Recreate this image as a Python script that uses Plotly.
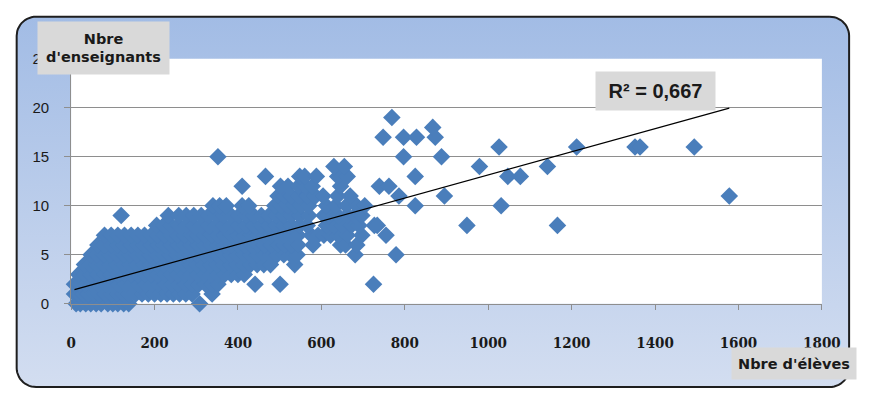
import numpy as np
import plotly.graph_objects as go

W, H = 872, 397

# ---------------- data (Nbre d'élèves for each Nbre d'enseignants) ----------------
x_at_0 = [12, 22, 35, 47, 60, 72, 88, 100, 112, 126, 138, 308]
x_at_1 = [8, 18, 30, 42, 55, 68, 82, 96, 110, 125, 140, 155, 170, 185, 200, 215, 230, 245, 260, 275, 290, 338]
x_at_2 = [8, 20, 35, 50, 66, 82, 98, 114, 130, 146, 162, 178, 194, 210, 226, 242, 258, 274, 290, 306, 322, 338, 352, 441, 501, 725]
x_at_3 = [18, 32, 48, 64, 80, 96, 112, 128, 144, 160, 176, 192, 208, 224, 240, 256, 272, 288, 304, 320, 336, 352, 368, 384, 400, 415]
x_at_4 = [32, 46, 62, 78, 94, 110, 126, 142, 158, 174, 190, 206, 222, 238, 254, 270, 286, 302, 318, 334, 350, 366, 382, 398, 414, 430, 446, 462, 478, 536]
x_at_5 = [48, 62, 78, 94, 110, 126, 142, 158, 174, 190, 206, 222, 238, 254, 270, 286, 302, 318, 334, 350, 366, 382, 398, 414, 430, 446, 462, 478, 494, 510, 526, 542, 681, 779]
x_at_6 = [64, 80, 96, 112, 128, 144, 160, 176, 192, 208, 224, 240, 256, 272, 288, 304, 320, 336, 352, 368, 384, 400, 416, 432, 448, 464, 480, 496, 512, 528, 544, 580, 646, 658, 685]
x_at_7 = [80, 96, 112, 128, 144, 160, 176, 192, 208, 224, 240, 256, 272, 288, 304, 320, 336, 352, 368, 384, 400, 416, 432, 448, 464, 480, 496, 512, 528, 544, 576, 592, 606, 622, 640, 662, 697, 755]
x_at_8 = [205, 222, 240, 258, 276, 294, 312, 330, 348, 366, 384, 402, 420, 438, 456, 474, 492, 510, 528, 548, 566, 612, 630, 650, 672, 690, 727, 734, 949, 1166]
x_at_9 = [120, 233, 258, 276, 294, 312, 330, 348, 366, 384, 402, 420, 438, 456, 474, 492, 510, 528, 548, 570, 606, 618, 640, 662, 680, 697]
x_at_10 = [340, 356, 372, 410, 426, 488, 504, 520, 536, 552, 570, 612, 634, 660, 685, 704, 825, 1031]
x_at_11 = [496, 512, 528, 546, 566, 586, 604, 639, 669, 786, 895, 1578]
x_at_12 = [410, 502, 520, 545, 562, 578, 646, 739, 762]
x_at_13 = [466, 548, 560, 588, 639, 662, 825, 1047, 1077]
x_at_14 = [630, 655, 979, 1142]
x_at_15 = [352, 797, 888]
x_at_16 = [1026, 1212, 1352, 1364, 1494]
x_at_17 = [748, 797, 828, 873]
x_at_18 = [867]
x_at_19 = [769]

rows = [x_at_0, x_at_1, x_at_2, x_at_3, x_at_4, x_at_5, x_at_6, x_at_7, x_at_8, x_at_9,
        x_at_10, x_at_11, x_at_12, x_at_13, x_at_14, x_at_15, x_at_16, x_at_17, x_at_18, x_at_19]

eleves, enseignants = [], []
for n_ens, xs in enumerate(rows):
    for v in xs:
        eleves.append(v)
        enseignants.append(n_ens)

TREND_SLOPE = 0.0118
TREND_INTERCEPT = 1.35
R2_LABEL = "R² = 0,667"

x_tickvals = [0, 200, 400, 600, 800, 1000, 1200, 1400, 1600, 1800]
y_tickvals = [0, 5, 10, 15, 20, 25]
X_TITLE = "Nbre d'élèves"
Y_TITLE = "Nbre<br>d'enseignants"

# ---------------- geometry / style (page pixels, y downward) ----------------
PLOT_L, PLOT_R, PLOT_T, PLOT_B = 68, 840, 52, 308
FR_L, FR_T, FR_R, FR_B, FR_RAD = 12, 8, 868, 395, 20
MARKER_COLOR = "#4A7EBB"
GRID = "#8E8E8E"
TXT = "#1A1A1A"


def rounded_rect(x0, y0, x1, y1, r, n=14):
    xs, ys = [], []
    corners = [(x1 - r, y0 + r, -90, 0), (x1 - r, y1 - r, 0, 90),
               (x0 + r, y1 - r, 90, 180), (x0 + r, y0 + r, 180, 270)]
    for cx, cy, a0, a1 in corners:
        for a in np.linspace(np.radians(a0), np.radians(a1), n):
            xs.append(cx + r * np.cos(a))
            ys.append(H - (cy + r * np.sin(a)))
    xs.append(xs[0]); ys.append(ys[0])
    return xs, ys


fx, fy = rounded_rect(FR_L, FR_T, FR_R, FR_B, FR_RAD)

fig = go.Figure()

# background frame (pixel axes x/y)
fig.add_trace(go.Scatter(
    x=fx, y=fy, mode="lines", fill="toself",
    line=dict(color="#1E1E1E", width=2),
    fillgradient=dict(type="vertical",
                      colorscale=[[0, "#D5DFF1"], [1, "#A2BCE5"]],
                      start=H - FR_B, stop=H - FR_T),
    hoverinfo="skip", showlegend=False, xaxis="x", yaxis="y"))
fig.add_trace(go.Scatter(
    x=[PLOT_L, PLOT_R, PLOT_R, PLOT_L, PLOT_L],
    y=[H - PLOT_T, H - PLOT_T, H - PLOT_B, H - PLOT_B, H - PLOT_T],
    mode="lines", fill="toself", fillcolor="white", line=dict(width=0, color="white"),
    hoverinfo="skip", showlegend=False, xaxis="x", yaxis="y"))

# data points
fig.add_trace(go.Scatter(
    x=eleves, y=enseignants, mode="markers",
    marker=dict(symbol="diamond", size=13.5, color=MARKER_COLOR, line=dict(width=0)),
    cliponaxis=False, showlegend=False, xaxis="x2", yaxis="y2"))

# linear trend line
xt = [min(eleves), max(eleves)]
yt = [TREND_INTERCEPT + TREND_SLOPE * v for v in xt]
fig.add_trace(go.Scatter(
    x=xt, y=yt, mode="lines", line=dict(color="black", width=1.2),
    showlegend=False, xaxis="x2", yaxis="y2"))

fig.update_layout(
    autosize=True,
    margin=dict(l=0, r=0, t=0, b=0, pad=0),
    paper_bgcolor="white", plot_bgcolor="rgba(0,0,0,0)",
    xaxis=dict(domain=[0, 1], range=[0, W], visible=False, fixedrange=True),
    yaxis=dict(domain=[0, 1], range=[0, H], visible=False, fixedrange=True),
    xaxis2=dict(domain=[PLOT_L / W, PLOT_R / W], range=[0, 1800], anchor="y2",
                tickvals=x_tickvals, ticks="outside", ticklen=5, tickcolor=GRID,
                showline=True, linecolor=GRID, linewidth=1, showgrid=False, zeroline=False,
                ticklabelstandoff=20,
                tickfont=dict(family="DejaVu Serif Condensed, DejaVu Serif", size=15,
                              color=TXT, weight="bold")),
    yaxis2=dict(domain=[1 - PLOT_B / H, 1 - PLOT_T / H], range=[0, 25], anchor="x2",
                tickvals=y_tickvals, ticks="outside", ticklen=6, tickcolor=GRID,
                showline=True, linecolor=GRID, linewidth=1,
                showgrid=True, gridcolor=GRID, gridwidth=1, zeroline=False,
                ticklabelstandoff=12,
                tickfont=dict(family="Liberation Sans", size=15, color=TXT)),
    annotations=[
        dict(text=Y_TITLE, xref="paper", yref="paper", x=33 / W, y=1 - 13 / H,
             xanchor="left", yanchor="top", width=131, height=52, showarrow=False,
             bgcolor="#D9D9D9", borderpad=0, align="center",
             font=dict(family="DejaVu Sans", size=14.5, color=TXT, weight="bold")),
        dict(text=X_TITLE, xref="paper", yref="paper", x=747 / W, y=1 - 353 / H,
             xanchor="left", yanchor="top", width=124, height=31, showarrow=False,
             bgcolor="#D9D9D9", borderpad=0, align="center",
             font=dict(family="DejaVu Sans", size=14.5, color=TXT, weight="bold")),
        dict(text=R2_LABEL, xref="paper", yref="paper", x=607 / W, y=1 - 65 / H,
             xanchor="left", yanchor="top", width=119, height=38, showarrow=False,
             bgcolor="#D9D9D9", borderpad=0, align="center",
             font=dict(family="Liberation Sans", size=20, color=TXT, weight="bold")),
    ],
)

fig.write_html(
    "out.html",
    config={"responsive": True, "displayModeBar": False},
    default_width="100vw",
    default_height="100vh; position:fixed; left:0; top:0; margin:0",
    post_script="document.body.style.margin='0px';document.body.style.overflow='hidden';",
)
